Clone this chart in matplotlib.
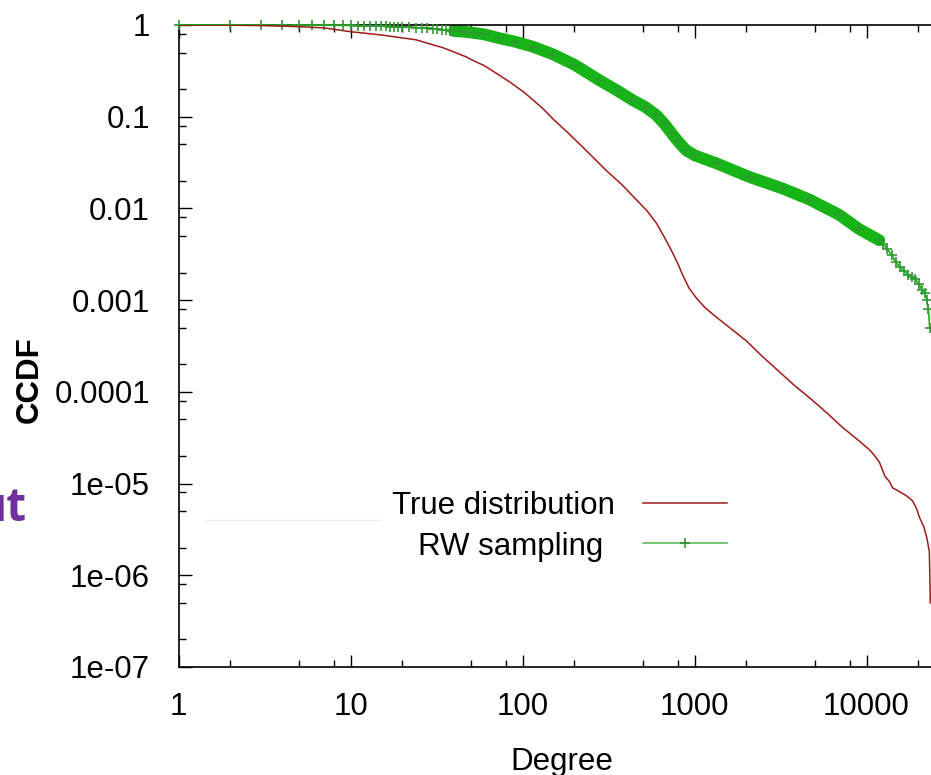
import matplotlib
matplotlib.use("Agg")
import matplotlib.pyplot as plt
from matplotlib.ticker import LogLocator, FixedFormatter, FixedLocator, NullFormatter
from matplotlib.lines import Line2D
import numpy as np

plt.rcParams['font.family'] = ['Liberation Sans', 'DejaVu Sans']

# ---- data ----
red_deg = [1, 2, 3, 5, 7, 10, 15, 24, 35, 47, 51, 60, 70, 84, 100, 110, 130, 150, 185,
           223, 300, 380, 460, 530, 601, 670, 745, 800, 851, 930, 1027, 1150, 1343, 1650,
           2000, 2500, 3120, 3800, 4665, 5300, 6000, 7250, 8200, 9100, 10500, 11300, 11900,
           12800, 13600, 14170, 15500, 17000, 18500, 19500, 20300, 21500, 22400, 23200,
           23500]
red_ccdf = [1.0, 0.995, 0.985, 0.96, 0.93, 0.845, 0.78, 0.69, 0.56, 0.45, 0.415, 0.36,
            0.30, 0.24, 0.19, 0.164, 0.125, 0.095, 0.066, 0.047, 0.027, 0.018, 0.0124,
            0.0094, 0.0069, 0.0048, 0.0033, 0.0025, 0.0019, 0.00135, 0.00105, 0.00083,
            0.00065, 0.00048, 0.00036, 0.00024, 0.000165, 0.000118, 8.6e-5, 7.0e-5,
            5.7e-5, 4.1e-5, 3.4e-5, 2.9e-5, 2.3e-5, 1.95e-5, 1.7e-5, 1.2e-5, 1.05e-5,
            9.0e-6, 8.2e-6, 7.4e-6, 6.5e-6, 5.4e-6, 4.3e-6, 3.4e-6, 2.6e-6, 1.8e-6, 5e-7]

green_deg = [1, 2, 3, 4, 5, 6, 7, 8, 9, 10, 11, 12, 13, 14, 15, 16, 17, 18, 19, 20,
             22, 24, 26, 28, 30, 32, 34, 36, 38, 40, 44, 47, 52, 60, 73, 90, 115, 150,
             200, 280, 360, 436, 520, 600, 670, 736, 800, 895, 1000, 1343, 2090, 3250,
             4660, 6960, 9000, 11870, 12500, 13200, 14000, 14800, 15600, 16500, 17400,
             18300, 19200, 20100, 21000, 21800, 22400, 22900, 23300]
green_ccdf = [1.0, 1.0, 0.999, 0.998, 0.997, 0.996, 0.995, 0.993, 0.991, 0.988, 0.985,
              0.982, 0.979, 0.975, 0.971, 0.967, 0.963, 0.959, 0.955, 0.951, 0.943,
              0.935, 0.926, 0.917, 0.908, 0.899, 0.89, 0.88, 0.87, 0.86, 0.85, 0.84,
              0.82, 0.79, 0.72, 0.66, 0.58, 0.48, 0.37, 0.25, 0.19, 0.152, 0.127, 0.104,
              0.083, 0.066, 0.054, 0.043, 0.038, 0.031, 0.022, 0.0165, 0.0125, 0.0085,
              0.006, 0.0045, 0.0041, 0.0036, 0.0031, 0.0026, 0.0023, 0.0021, 0.0019,
              0.0018, 0.0017, 0.0015, 0.0013, 0.0012, 0.0010, 0.0008, 0.0005]

x_ticks = [1, 10, 100, 1000, 10000, 100000]
x_labels = ['1', '10', '100', '1000', '10000', '']
y_ticks = [1e-7, 1e-6, 1e-5, 1e-4, 1e-3, 1e-2, 1e-1, 1]
y_labels = ['1e-07', '1e-06', '1e-05', '0.0001', '0.001', '0.01', '0.1', '1']

W, H = 931, 775
fig = plt.figure(figsize=(W / 100, H / 100), dpi=100)
ax = fig.add_axes([178.5 / W, 108 / H, 860 / W, 642 / H])
ax.set_xscale('log')
ax.set_yscale('log')

red_c = '#a01a1a'
green_c = '#17b417'

gd = np.array(green_deg)
gc = np.array(green_ccdf)
dense = (gd >= 40) & (gd <= 11870)
ax.plot(gd[dense], gc[dense], color=green_c, lw=8.5, solid_capstyle='round',
        solid_joinstyle='round', zorder=2)
ax.plot(gd, gc, color=green_c, lw=1.2, marker='+', ms=7, mew=1.2,
        mec='#2f9a2f', zorder=3, clip_on=False)
ax.plot(red_deg, red_ccdf, color=red_c, lw=1.1, zorder=4)

ax.set_xlim(1, 1e5)
ax.set_ylim(1e-7, 1)

ax.xaxis.set_major_locator(FixedLocator(x_ticks))
ax.xaxis.set_major_formatter(FixedFormatter(x_labels))
ax.yaxis.set_major_locator(FixedLocator(y_ticks))
ax.yaxis.set_major_formatter(FixedFormatter(y_labels))
ax.xaxis.set_minor_locator(LogLocator(base=10, subs=(2, 5, 8), numticks=20))
ax.yaxis.set_minor_locator(LogLocator(base=10, subs=(2, 5, 8), numticks=20))
ax.xaxis.set_minor_formatter(NullFormatter())
ax.yaxis.set_minor_formatter(NullFormatter())

ax.tick_params(which='both', direction='in', top=True, right=True, colors='black')
ax.tick_params(which='major', length=9, width=1.0, labelsize=22.5)
ax.tick_params(which='minor', length=5, width=1.0)
ax.tick_params(axis='y', which='major', pad=20.5)
ax.tick_params(axis='x', which='major', pad=18)
for s in ax.spines.values():
    s.set_linewidth(1.2)
    s.set_color('black')

# axis titles
fig.text(562 / W, 1 - 770 / H, 'Degree', ha='center', va='baseline', fontsize=22.5)
fig.text(30 / W, 1 - 380 / H, 'CCDF', ha='center', va='center', rotation=90,
         fontsize=22.5, fontweight='bold')

# legend (gnuplot style: text then sample)
fig.text(392 / W, 1 - 514 / H, 'True distribution', ha='left', va='baseline', fontsize=22.5)
fig.text(418 / W, 1 - 555 / H, 'RW sampling', ha='left', va='baseline', fontsize=22.5)
fig.add_artist(Line2D([643 / W, 727 / W], [1 - 503 / H] * 2, color=red_c, lw=1.1))
fig.add_artist(Line2D([643 / W, 727 / W], [1 - 543 / H] * 2, color='#4fb44f', lw=1.1))
fig.add_artist(Line2D([685 / W], [1 - 543 / H], color='#2f8a2f', marker='+', ms=7, mew=1.1))

# faint remnant line and cropped slide text
fig.add_artist(Line2D([205 / W, 380 / W], [1 - 520 / H] * 2, color='#f0f0f0', lw=1))
fig.text(27 / W, 1 - 521 / H, 'ut', ha='right', va='baseline', fontsize=33,
         fontweight='bold', color='#7030a0', family=['Open Sans', 'DejaVu Sans'])

fig.savefig('out.png', dpi=100)
